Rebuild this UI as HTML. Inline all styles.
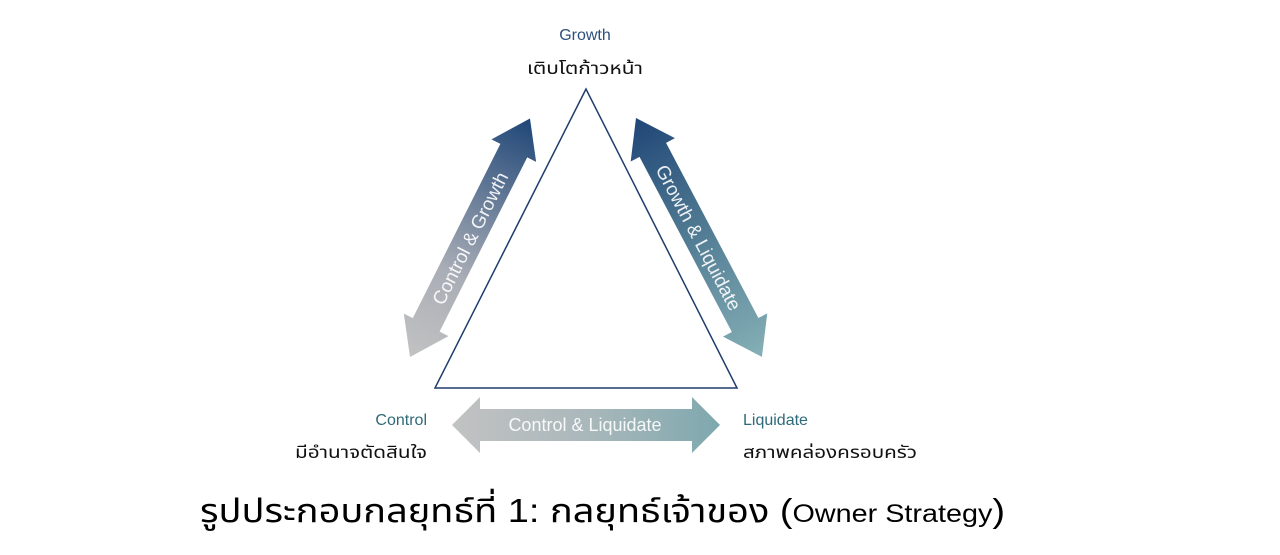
<!DOCTYPE html>
<html><head><meta charset="utf-8"><style>
html,body{margin:0;padding:0;background:#fff;}
svg{display:block;}
text{font-family:"Liberation Sans","Noto Sans Thai","Loma",sans-serif;}
</style></head><body>
<svg width="1280" height="555" viewBox="0 0 1280 555" xmlns="http://www.w3.org/2000/svg">
<defs>
<linearGradient id="gl" x1="0" y1="0" x2="1" y2="0"><stop offset="0" stop-color="#c2c2c2"/><stop offset="0.35" stop-color="#a9adb6"/><stop offset="1" stop-color="#1f4677"/></linearGradient>
<linearGradient id="gr" x1="0" y1="0" x2="1" y2="0"><stop offset="0" stop-color="#1f4677"/><stop offset="0.45" stop-color="#4e7891"/><stop offset="1" stop-color="#85b0b6"/></linearGradient>
<linearGradient id="gb" x1="0" y1="0" x2="1" y2="0"><stop offset="0" stop-color="#c2c2c2"/><stop offset="0.5" stop-color="#aab8bb"/><stop offset="1" stop-color="#7ea8ae"/></linearGradient>
</defs>
<polygon points="586,89 435,388 737,388" fill="#fff" stroke="#1f3d6b" stroke-width="1.5"/>

<g transform="translate(410,357) rotate(-63.3)">
<polygon points="0,0 36,-25 36,-15 231,-15 231,-25 267,0 231,25 231,15 36,15 36,25" fill="url(#gl)"/>
<text x="133" y="7" font-size="19" fill="#fff" text-anchor="middle" fill-opacity="0.9">Control &amp; Growth</text>
</g>

<g transform="translate(636,118) rotate(62.2)">
<polygon points="0,0 36,-25 36,-15 234,-15 234,-25 270,0 234,25 234,15 36,15 36,25" fill="url(#gr)"/>
<text x="135" y="7" font-size="19" fill="#fff" text-anchor="middle" fill-opacity="0.9">Growth &amp; Liquidate</text>
</g>

<polygon points="452,425 480,397 480,409 692,409 692,397 720,425 692,453 692,441 480,441 480,453" fill="url(#gb)"/>
<text x="585" y="431" font-size="18" fill="#fff" text-anchor="middle" fill-opacity="0.9">Control &amp; Liquidate</text>

<text x="585" y="40" font-size="16" fill="#2c4f7c" text-anchor="middle">Growth</text>
<text x="527" y="74" font-size="17" fill="#111" textLength="116" lengthAdjust="spacingAndGlyphs">เติบโตก้าวหน้า</text>
<text x="427" y="425" font-size="16" fill="#2e6a78" text-anchor="end">Control</text>
<text x="295" y="458" font-size="17" fill="#111" textLength="132" lengthAdjust="spacingAndGlyphs">มีอำนาจตัดสินใจ</text>
<text x="743" y="425" font-size="16" fill="#2e6a78">Liquidate</text>
<text x="743" y="458" font-size="17" fill="#111" textLength="174" lengthAdjust="spacingAndGlyphs">สภาพคล่องครอบครัว</text>

<text x="200" y="522" font-size="33" fill="#000" textLength="805" lengthAdjust="spacingAndGlyphs">รูปประกอบกลยุทธ์ที่ 1: กลยุทธ์เจ้าของ (<tspan font-size="25">Owner Strategy</tspan>)</text>
</svg>
</body></html>
